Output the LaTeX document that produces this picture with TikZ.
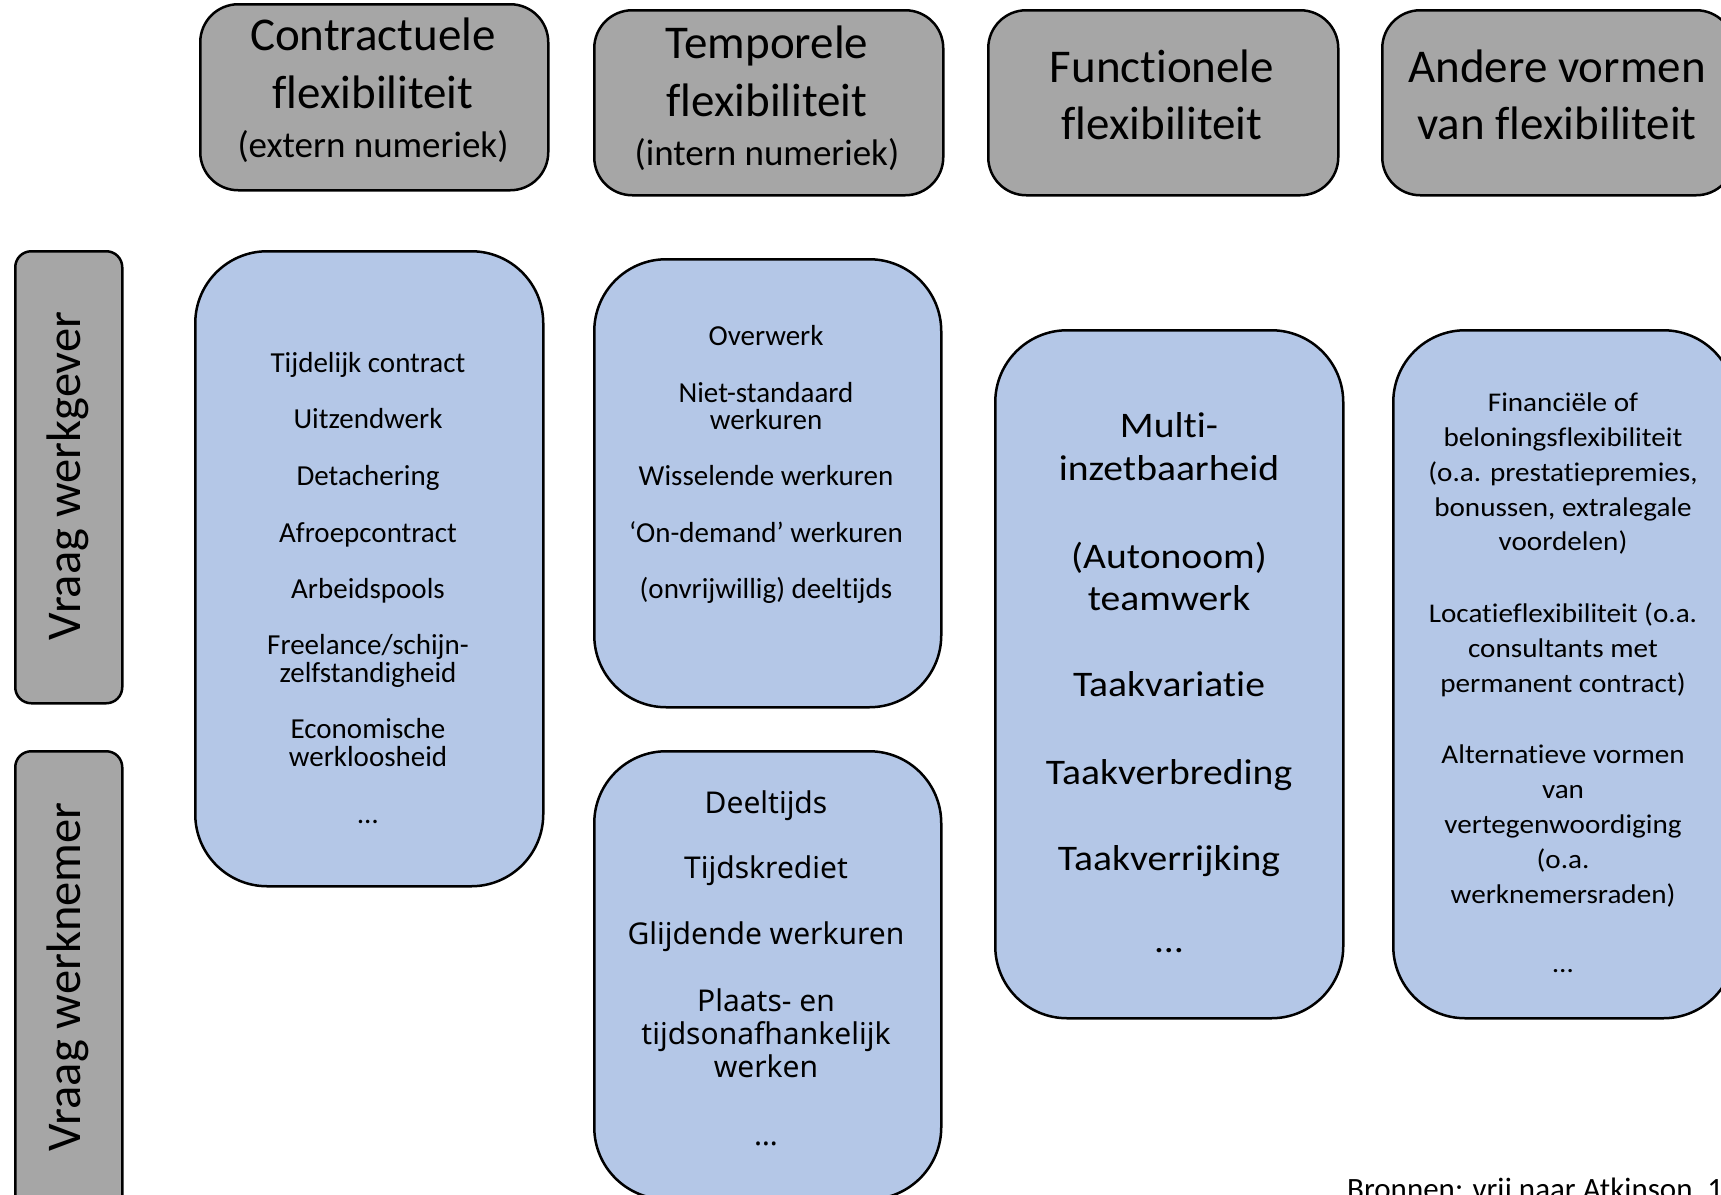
\documentclass[tikz,border=0pt]{standalone}
\usepackage{fontspec}
\defaultfontfeatures{Ligatures={NoCommon,NoRequired,NoContextual}, Contextuals=NoAlternate}
\setmainfont{Carlito}
\newfontfamily\segoe{Noto Sans}
\newfontfamily\wideD{Carlito}[FakeStretch=1.1]
\newfontfamily\wideE{Carlito}[FakeStretch=1.08]
\definecolor{hdrgray}{HTML}{A6A6A6}
\definecolor{itemblue}{HTML}{B4C7E7}
\tikzset{
  frame/.style={draw=black, line width=2.5pt, anchor=north west, inner sep=0pt},
  hdrbox/.style={frame, fill=hdrgray, rounded corners=38pt},
  sidebox/.style={frame, fill=hdrgray, rounded corners=16pt},
  itembox/.style={frame, fill=itemblue, rounded corners=72pt},
  txt/.style={anchor=base, inner sep=0pt},
  hbig/.style={txt, font=\fontsize{47}{57}\selectfont},
  hsmall/.style={txt, font=\fontsize{37}{44}\selectfont},
  txtA/.style={txt, font=\fontsize{29}{27}\selectfont},
  txtC/.style={txt, font=\segoe\fontsize{30}{33}\selectfont},
  txtD/.style={txt, font=\wideD\fontsize{36}{44}\selectfont},
  txtE/.style={txt, font=\wideE\fontsize{27}{35}\selectfont},
  sidetxt/.style={anchor=base, inner sep=0pt, rotate=90, font=\fontsize{48.5}{58}\selectfont},
}
\begin{document}
\begin{tikzpicture}[x=1pt, y=-1pt]
\useasboundingbox (0,0) rectangle (1721,1194);
\clip (0,0) rectangle (1721,1194);

% header boxes
\node[hdrbox, minimum width=348pt, minimum height=186pt] (h1) at (199,3) {};
\node[hdrbox, minimum width=349pt, minimum height=185pt] (h2) at (593,9) {};
\node[hdrbox, minimum width=350pt, minimum height=185pt] (h3) at (987,9) {};
\node[hdrbox, minimum width=352pt, minimum height=185pt] (h4) at (1381,9) {};

\node[hbig] (h1a) at (373,50) {Contractuele};
\node[hbig] (h1b) at (373,108) {flexibiliteit};
\node[hsmall] (h1c) at (373,157) {(extern numeriek)};
\node[hbig] (h2a) at (767,58) {Temporele};
\node[hbig] (h2b) at (767,116) {flexibiliteit};
\node[hsmall] (h2c) at (767,165) {(intern numeriek)};
\node[hbig] (h3a) at (1162,82) {Functionele};
\node[hbig] (h3b) at (1162,139) {flexibiliteit};
\node[hbig] (h4a) at (1557,82) {Andere vormen};
\node[hbig] (h4b) at (1557,139) {van flexibiliteit};

% side boxes
\node[sidebox, minimum width=107pt, minimum height=452pt] (s1) at (14,250) {};
\node[sidebox, minimum width=107pt, minimum height=460pt] (s2) at (14,750) {};
\node[sidetxt] (s1t) at (80,476) {Vraag werkgever};
\node[sidetxt] (s2t) at (80,977) {Vraag werknemer};

% item boxes
\node[itembox, minimum width=348pt, minimum height=635pt] (ba) at (194,250) {};
\node[itembox, minimum width=347pt, minimum height=448pt] (bb) at (593,258) {};
\node[itembox, minimum width=347pt, minimum height=448pt] (bc) at (593,750) {};
\node[itembox, minimum width=348pt, minimum height=688pt] (bd) at (994,329) {};
\node[itembox, minimum width=342pt, minimum height=688pt] (be) at (1392,329) {};

\foreach \yy/\tx [count=\i] in {372/Tijdelijk contract, 428/Uitzendwerk, 485/Detachering,
  542/Afroepcontract, 598/Arbeidspools, 654/{Freelance/schijn-}, 682/zelfstandigheid,
  738/Economische, 766/werkloosheid, 823/…}
  \node[txtA] (ta\i) at (368,\yy) {\tx};

\foreach \yy/\tx [count=\i] in {345/Overwerk, 402/Niet-standaard, 429/werkuren,
  485/Wisselende werkuren, 542/‘On-demand’ werkuren, 598/(onvrijwillig) deeltijds}
  \node[txtA] (tb\i) at (766,\yy) {\tx};

\foreach \yy/\tx [count=\i] in {813/Deeltijds, 878/Tijdskrediet, 944/Glijdende werkuren,
  1011/Plaats- en, 1044/tijdsonafhankelijk, 1077/werken, 1145/…}
  \node[txtC] (tc\i) at (766,\yy) {\tx};

\foreach \yy/\tx [count=\i] in {437/Multi-, 480/inzetbaarheid, 568/(Autonoom), 610/teamwerk,
  696/Taakvariatie, 784/Taakverbreding, 870/Taakverrijking, 952/…}
  \node[txtD] (td\i) at (1169,\yy) {\tx};

\foreach \yy/\tx [count=\i] in {411/Financiële of, 446/beloningsflexibiliteit,
  481/{(o.a. prestatiepremies,}, 516/{bonussen, extralegale}, 550/voordelen),
  622/Locatieflexibiliteit (o.a., 657/consultants met, 692/permanent contract),
  763/Alternatieve vormen, 798/van, 833/vertegenwoordiging, 868/(o.a.,
  903/werknemersraden), 972/…}
  \node[txtE] (te\i) at (1563,\yy) {\tx};

\node[anchor=base west, inner sep=0pt, font=\fontsize{31}{37}\selectfont] (src) at (1347,1199) {Bronnen: vrij naar Atkinson, 1984};
\end{tikzpicture}
\end{document}
